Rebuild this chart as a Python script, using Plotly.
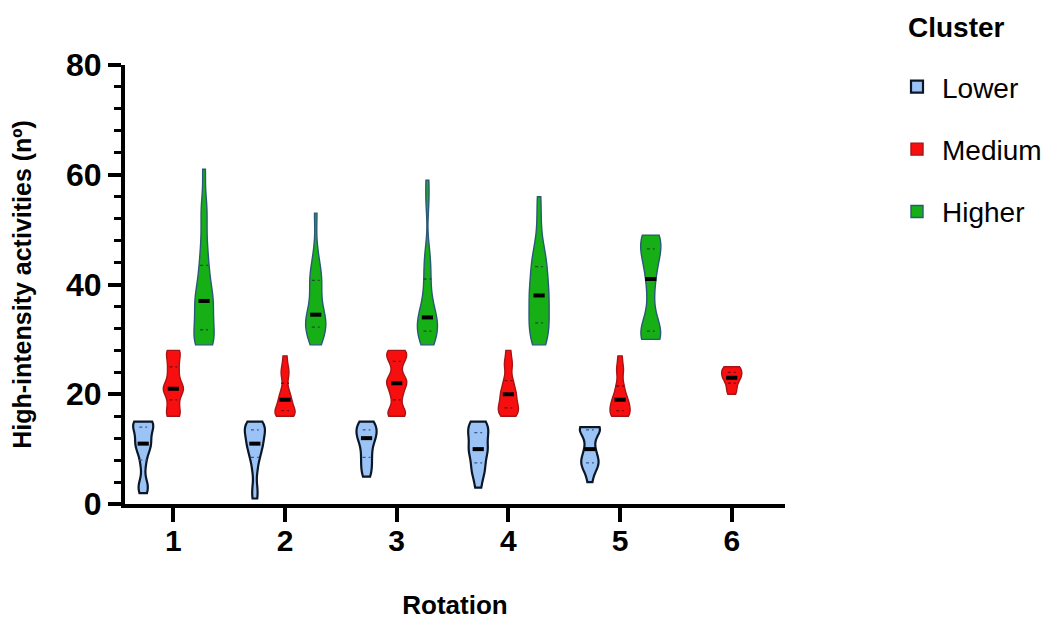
import numpy as np
import plotly.graph_objects as go

# ---------------- data ----------------
rotations = [1, 2, 3, 4, 5, 6]
tick_labels = ["1", "2", "3", "4", "5", "6"]
clusters = ["Lower", "Medium", "Higher"]

lower_r1 = [2, 3, 4, 7, 9, 10, 11, 11, 12, 13, 14, 14, 15, 15, 15]
lower_r2 = [1, 3, 6, 8, 9, 10, 11, 11, 12, 13, 13, 14, 14, 15, 15]
lower_r3 = [5, 6, 7, 8, 9, 10, 11, 12, 12, 13, 13, 14, 14, 15, 15]
lower_r4 = [3, 5, 6, 7, 8, 9, 10, 10, 11, 12, 13, 13, 14, 15, 15]
lower_r5 = [4, 6, 7, 7, 8, 8, 9, 10, 11, 13, 13, 14, 14, 14, 14]

medium_r1 = [16, 16, 17, 18, 19, 20, 21, 21, 21, 22, 23, 24, 25, 26, 27, 28, 28]
medium_r2 = [16, 16, 16, 17, 17, 17, 18, 19, 19, 20, 21, 23, 24, 25, 27]
medium_r3 = [16, 16, 17, 17, 19, 20, 21, 22, 22, 23, 23, 25, 26, 27, 27, 28, 28]
medium_r4 = [16, 16, 17, 17, 18, 18, 19, 20, 20, 21, 22, 23, 25, 26, 28]
medium_r5 = [16, 16, 16, 17, 17, 18, 18, 19, 19, 20, 21, 22, 24, 25, 27]
medium_r6 = [20, 21, 22, 23, 23, 24, 24, 25, 25]

higher_r1 = [29, 29, 29, 30, 30, 31, 32, 33, 34, 35, 36, 37, 37, 38, 39, 40, 42, 43, 45, 47, 50, 53, 55, 61]
higher_r2 = [29, 30, 31, 32, 32, 33, 33, 34, 34, 35, 37, 39, 40, 41, 42, 43, 46, 53]
higher_r3 = [29, 30, 30, 31, 31, 32, 33, 33, 34, 34, 35, 36, 38, 40, 42, 44, 46, 55, 59]
higher_r4 = [29, 29, 30, 31, 32, 33, 33, 34, 35, 36, 37, 38, 38, 39, 40, 41, 42, 43, 44, 45, 46, 48, 52, 56]
higher_r5 = [30, 30, 31, 31, 32, 34, 38, 41, 43, 45, 46, 47, 48, 49, 49]

samples = {
    "Lower": [lower_r1, lower_r2, lower_r3, lower_r4, lower_r5, None],
    "Medium": [medium_r1, medium_r2, medium_r3, medium_r4, medium_r5, medium_r6],
    "Higher": [higher_r1, higher_r2, higher_r3, higher_r4, higher_r5, None],
}

# ---------------- style ----------------
FONT = "Liberation Sans, Arial, sans-serif"
offsets = {"Lower": -0.27, "Medium": 0.0, "Higher": 0.275}
fills = {"Lower": "#9cc3f5", "Medium": "#f70f0f", "Higher": "#16b016"}
edges = {"Lower": "#0b1626", "Medium": "#a51515", "Higher": "#2b5878"}
edge_w = {"Lower": 2.2, "Medium": 1.4, "Higher": 1.4}
bandwidths = {"Lower": 1.3, "Medium": 1.1, "Higher": 2.6}
quart_col = {"Lower": "#3a5a80", "Medium": "#7a0a0a", "Higher": "#1e4a2a"}
VIOLIN_W = 0.18

# plot area in page pixels: x 125..785, y 65..504 (page body has an 8px margin)
PAGE_OFF = 8
L, R, T, B = 125, 785, 65, 504
FIG_W, FIG_H = 1051 - PAGE_OFF, 622 - PAGE_OFF

fig = go.Figure()

for cl in clusters:
    first = True
    for rot, vals in zip(rotations, samples[cl]):
        if vals is None:
            continue
        pos = rot + offsets[cl]
        bw = bandwidths[cl]
        if rot == 6:
            bw = 0.8
        fig.add_trace(go.Violin(
            x=[pos] * len(vals), y=vals,
            name=cl, legendgroup=cl, showlegend=first,
            width=VIOLIN_W, spanmode="hard", bandwidth=bw,
            scalemode="width", points=False,
            box_visible=False, meanline_visible=False,
            fillcolor=fills[cl], opacity=1,
            line=dict(color=edges[cl], width=edge_w[cl]),
            hoveron="violins",
        ))
        first = False
        q1, med, q3 = np.percentile(vals, [25, 50, 75])
        for q in (q1, q3):
            fig.add_trace(go.Scatter(
                x=[pos - 0.035, pos + 0.035], y=[q, q], mode="lines",
                line=dict(color=quart_col[cl], width=1.3, dash="dot"),
                showlegend=False, hoverinfo="skip",
            ))
        fig.add_trace(go.Scatter(
            x=[pos], y=[med], mode="markers",
            marker=dict(symbol="line-ew", size=8,
                        line=dict(width=4, color="black")),
            showlegend=False, hoverinfo="skip",
        ))

PW, PH = R - L, B - T

fig.add_annotation(
    text="Cluster", xref="paper", yref="paper",
    x=(957 - L) / PW, y=(B - 28) / PH, xanchor="center", yanchor="middle",
    borderpad=0, showarrow=False,
    font=dict(family=FONT, size=28, weight="bold", color="black"),
)

fig.update_layout(
    width=FIG_W, height=FIG_H,
    paper_bgcolor="white", plot_bgcolor="white",
    margin=dict(l=L - PAGE_OFF, r=FIG_W - (R - PAGE_OFF), t=T - PAGE_OFF,
                b=FIG_H - (B - PAGE_OFF), autoexpand=False),
    violinmode="overlay",
    font=dict(family=FONT, color="black"),
    legend=dict(
        x=(892 - L) / PW, y=(B - 62) / PH, xanchor="left", yanchor="top",
        font=dict(family=FONT, size=28),
        tracegroupgap=23, itemwidth=40,
        bgcolor="rgba(0,0,0,0)",
    ),
    xaxis=dict(
        type="linear", range=[0.567, 6.477],
        tickvals=rotations, ticktext=tick_labels,
        showline=True, linewidth=4, linecolor="black",
        ticks="outside", ticklen=14, tickwidth=4, tickcolor="black",
        tickfont=dict(family=FONT, size=30, weight="bold"),
        ticklabelstandoff=-7,
        showgrid=False, zeroline=False,
        title=dict(text="Rotation", standoff=41,
                   font=dict(family=FONT, size=26, weight="bold")),
    ),
    yaxis=dict(
        range=[0, 80], tick0=0, dtick=20,
        showline=True, linewidth=4, linecolor="black",
        ticks="outside", ticklen=13, tickwidth=4, tickcolor="black",
        minor=dict(dtick=4, ticks="outside", ticklen=7, tickwidth=3,
                   tickcolor="black", showgrid=False),
        tickfont=dict(family=FONT, size=32, weight="bold"),
        ticklabelstandoff=0,
        showgrid=False, zeroline=False,
        title=dict(text="High-intensity activities (nº)", standoff=30,
                   font=dict(family=FONT, size=25, weight="bold")),
    ),
)

fig.write_html("out.html")
